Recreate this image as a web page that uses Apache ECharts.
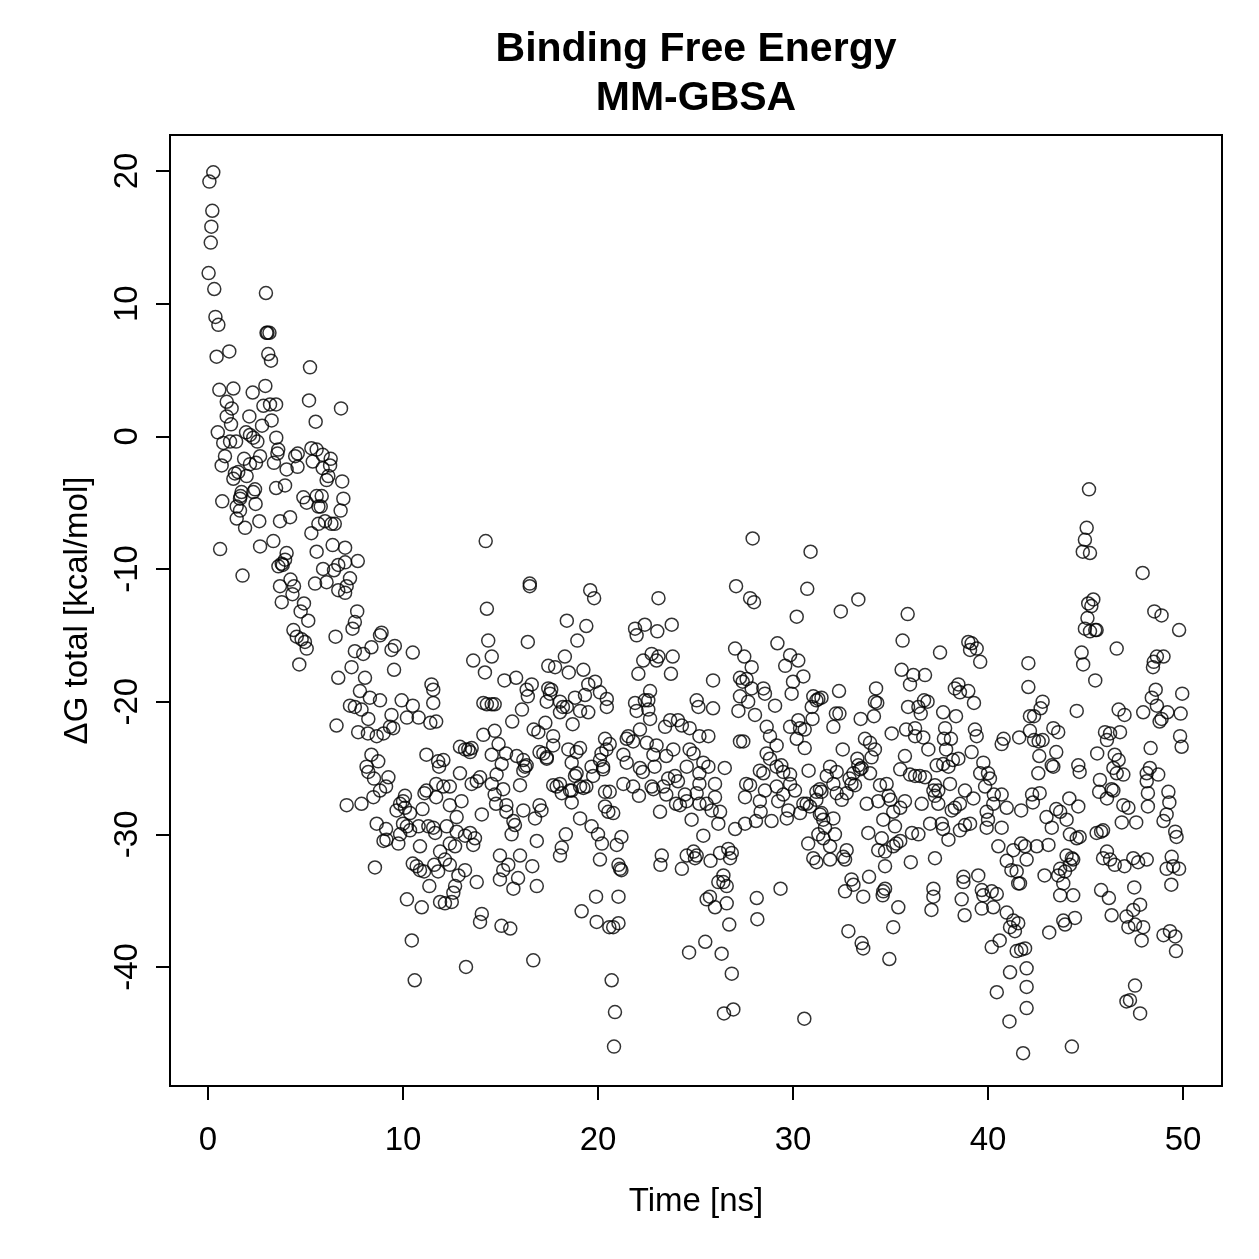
<!DOCTYPE html>
<html><head><meta charset="utf-8">
<script src="https://cdn.jsdelivr.net/npm/echarts@6/dist/echarts.min.js"></script>
<style>html,body{margin:0;padding:0;background:#fff}#c{width:1259px;height:1259px}</style>
</head><body><div id="c"></div>
<script>
const titleLine1 = 'Binding Free Energy';
const titleLine2 = 'MM-GBSA';
const xName = 'Time [ns]';
const yName = 'ΔG total [kcal/mol]';
const xTicks = [0, 10, 20, 30, 40, 50];
const yTicks = [-40, -30, -20, -10, 0, 10, 20];

// [time (ns), ΔG total (kcal/mol)], grouped by time range
const points_0_12 = [
[0.27,19.9],[0.07,19.2],[0.22,17.0],[0.17,15.8],[0.14,14.6],[0.03,12.3],[0.32,11.1],[0.38,9.0],[0.53,8.4],[2.97,10.8],
[3.0,7.8],[3.05,7.8],[3.15,7.8],[0.44,6.0],[1.09,6.4],[3.09,6.2],[3.23,5.7],[5.23,5.2],[0.58,3.5],[1.3,3.6],
[2.29,3.3],[2.94,3.8],[0.96,2.6],[1.21,2.1],[5.18,2.7],[6.82,2.1],[2.84,2.3],[3.18,2.4],[3.49,2.4],[0.96,1.5],
[2.12,1.5],[3.26,1.2],[5.52,1.1],[1.18,0.9],[2.77,0.8],[0.5,0.3],[1.95,0.3],[2.15,0.1],[2.32,-0.1],[2.53,-0.4],
[3.5,-0.1],[0.78,-0.5],[1.13,-0.4],[1.44,-0.4],[3.6,-1.0],[5.3,-0.9],[5.57,-1.0],[4.6,-1.3],
[0.87,-1.5],[0.7,-2.2],[1.85,-1.7],[2.15,-2.1],[2.67,-1.5],[2.46,-2.0],[3.56,-1.3],[3.38,-2.0],[4.03,-2.5],[4.47,-1.5],
[4.59,-2.3],[5.88,-1.4],[6.29,-1.7],[5.37,-1.9],[5.88,-2.4],[6.26,-2.2],[6.17,-3.0],[6.08,-3.3],[6.88,-3.4],[1.38,-2.8],
[1.55,-2.7],[1.98,-3.0],[1.3,-3.2],[2.41,-4.0],[2.32,-4.2],[1.72,-4.2],[1.67,-4.5],[1.64,-4.7],[3.49,-3.9],[3.95,-3.7],
[0.73,-4.9],[1.47,-5.3],[1.64,-5.6],[1.47,-6.2],[1.9,-6.9],[2.44,-5.1],[2.63,-6.4],[3.69,-6.4],[4.21,-6.1],[4.89,-4.6],
[5.06,-5.0],[5.57,-4.5],[5.83,-4.5],[5.66,-5.3],[5.78,-5.3],[6.94,-4.7],[6.8,-5.6],[5.66,-6.6],[6.0,-6.4],[6.33,-6.6],
[6.5,-6.6],[5.3,-7.3],[0.62,-8.5],[2.67,-8.3],[3.35,-7.9],[1.77,-10.5],[4.03,-8.8],[3.95,-9.3],[3.78,-9.6],[3.61,-9.8],
[3.83,-9.7],[5.57,-8.7],[6.39,-8.2],[7.03,-8.4],[7.68,-9.4],[5.9,-10.0],[6.46,-10.1],[6.68,-9.7],[7.03,-9.5],[4.23,-10.8],
[4.41,-11.3],[3.69,-11.3],[4.33,-11.9],[3.78,-12.5],[5.49,-11.1],[6.08,-11.0],[6.68,-11.6],[7.28,-10.7],[7.11,-11.3],[7.03,-11.8],
[4.92,-12.6],[4.75,-13.2],[5.14,-13.9],[7.65,-13.2],[7.53,-14.0],[7.41,-14.5],[4.38,-14.6],[4.55,-15.1],[4.8,-15.3],[4.97,-15.5],
[5.06,-16.0],[4.68,-17.2],[6.54,-15.1],[7.53,-16.2],[7.96,-16.4],[8.38,-15.9],[8.82,-15.0],[8.9,-14.8],[9.41,-16.1],[9.58,-15.8],
[10.5,-16.3],[9.54,-17.6],[7.36,-17.4],[6.68,-18.2],[8.05,-18.2],[11.46,-18.7],[11.55,-19.1],[11.55,-20.1],[7.79,-19.2],[8.3,-19.7],
[8.82,-19.9],[9.93,-19.9],[10.5,-20.3],[7.28,-20.3],[7.53,-20.4],[7.87,-20.6],[8.22,-21.3],[9.41,-21.0],[10.2,-21.2],[10.8,-21.2],
[11.4,-21.6],[6.59,-21.8],
[7.7,-22.3],[8.2,-22.4],[8.65,-22.6],[9.0,-22.4],[9.33,-21.9],[9.5,-22.0],[11.7,-21.5],[8.38,-24.0],[8.73,-24.5],[8.13,-24.9],
[8.22,-25.3],[8.51,-25.8],[9.25,-25.7],[9.13,-26.4],[8.82,-26.7],[8.48,-27.2],[7.11,-27.8],[7.87,-27.7],[11.2,-24.0],[11.8,-24.5],
[11.85,-24.9],[10.1,-27.1],[10.0,-27.5],[9.85,-27.7],[9.67,-28.2],[10.1,-28.0],[10.36,-28.4],[11.0,-28.1],[11.2,-26.7],[11.1,-26.9],
[11.7,-27.2],[11.7,-26.2],[8.65,-29.2],[9.13,-29.6],[9.0,-30.5],[9.15,-30.4],[9.85,-30.0],[9.76,-30.7],[10.0,-29.2],[10.2,-29.4],
[10.36,-29.7],[10.8,-29.4],[11.3,-29.4],[11.55,-29.5],[11.65,-29.9],[10.87,-30.9],[11.9,-31.3],[8.56,-32.5],[10.5,-32.2],[10.7,-32.4],
[10.87,-32.7],[11.08,-32.8],[11.6,-32.3],[11.8,-32.8],[11.35,-33.9],[10.2,-34.9],[10.96,-35.5],[10.45,-38.0],[10.6,-41.0],[11.9,-35.1]
];

const points_12_21 = [
[14.24,-7.9],[16.5,-11.1],[16.5,-11.3],[19.6,-11.6],[19.8,-12.2],[14.3,-13.0],[18.4,-13.9],[19.4,-14.3],[14.37,-15.4],[14.55,-16.6],
[16.4,-15.5],[18.94,-15.4],[18.3,-16.6],[13.6,-16.9],[14.2,-17.8],[17.45,-17.3],[17.8,-17.4],[18.5,-17.8],[19.25,-17.6],[15.2,-18.4],
[15.8,-18.2],[16.6,-18.7],[16.34,-19.1],[16.4,-19.6],[17.45,-19.0],[17.6,-19.1],[17.54,-19.4],[17.37,-20.0],[18.05,-20.0],[18.2,-20.4],
[18.4,-20.4],[18.05,-20.8],[18.82,-19.7],[19.33,-19.5],[19.5,-18.7],[19.85,-18.5],[20.1,-19.3],[20.45,-19.8],[20.45,-20.4],[19.08,-20.7],
[19.5,-20.8],[14.12,-20.1],[14.3,-20.2],[14.55,-20.2],[14.7,-20.2],[16.1,-20.6],[15.6,-21.5],[17.3,-21.6],[18.7,-21.7],[14.12,-22.5],
[14.7,-22.2],[14.9,-23.2],[14.55,-24.0],[15.06,-24.7],[15.28,-23.9],[15.83,-24.1],[16.17,-24.4],[16.26,-24.9],[16.17,-25.2],[16.34,-24.8],
[12.92,-23.4],[13.18,-23.6],[13.35,-23.6],[13.52,-23.5],[13.44,-23.8],[12.07,-24.4],[16.7,-22.1],[16.94,-22.3],[17.7,-22.6],[17.7,-23.3],
[17.0,-23.8],[17.2,-23.9],[17.37,-24.2],[17.37,-24.3],[18.48,-23.6],[18.9,-23.8],[19.08,-23.5],[18.65,-24.6],[18.9,-25.4],[18.82,-25.6],
[19.67,-24.9],[20.1,-24.4],[20.18,-23.9],[20.43,-23.6],[20.26,-24.9],[20.26,-25.1],[19.75,-25.6],[19.4,-26.4],[19.25,-26.5],[12.92,-25.4],
[13.52,-26.2],[13.78,-26.0],[13.95,-25.7],[14.8,-25.5],[14.55,-26.2],[15.14,-26.6],[16.0,-26.3],[17.88,-26.4],[18.05,-26.2],[18.65,-26.7],
[19.08,-26.4],[12.07,-26.4],[12.4,-26.4],
[12.4,-27.8],[13.0,-27.5],[12.75,-28.7],[12.24,-29.4],[12.75,-29.8],[13.18,-30.1],[13.44,-29.9],[13.69,-30.3],[13.6,-30.8],[12.4,-30.7],
[12.67,-30.9],[12.15,-31.9],[12.4,-32.3],[12.84,-33.1],[13.18,-32.7],[12.67,-33.9],[12.58,-34.4],[12.5,-35.1],[12.15,-35.2],[13.78,-33.6],
[13.95,-36.6],[14.04,-36.0],[13.23,-40.0],[14.04,-28.5],[14.7,-27.0],[14.77,-27.7],[15.3,-27.8],[15.3,-28.3],[15.66,-29.0],[15.74,-29.3],
[15.57,-30.0],[16.17,-28.2],[14.97,-31.6],[15.4,-32.3],[15.14,-32.7],[14.97,-33.4],[15.66,-34.1],[16.0,-31.6],[15.9,-33.3],[16.63,-32.4],
[16.86,-33.9],[16.86,-30.5],[15.05,-36.9],[15.5,-37.1],[16.68,-39.5],[17.0,-27.8],[17.1,-28.2],[16.77,-28.8],[17.7,-26.3],[18.14,-26.9],
[18.56,-26.7],[18.65,-27.6],[19.08,-28.8],[19.67,-29.4],[20.0,-30.0],[20.2,-30.7],[18.35,-30.0],[18.14,-31.0],[18.05,-31.6],[20.1,-31.9],
[19.9,-34.7],[19.16,-35.8],[19.93,-36.6],[20.58,-37.0],[20.36,-26.8]
];

const points_21_31 = [
[27.93,-7.7],[30.9,-8.7],[27.08,-11.3],[27.8,-12.2],[28.0,-12.5],[30.73,-11.5],[23.1,-12.2],[30.19,-13.6],[21.9,-14.5],[21.98,-15.0],
[22.4,-14.2],[23.04,-14.7],[23.78,-14.2],[27.03,-16.0],[27.5,-16.6],[29.2,-15.6],[29.85,-16.5],[30.27,-16.9],[29.6,-17.3],[30.53,-18.1],
[30.0,-18.5],[29.93,-19.4],[25.9,-18.4],[22.32,-16.9],[22.75,-16.4],[23.1,-16.6],[23.83,-16.6],[22.07,-17.9],[23.74,-17.9],[23.0,-16.9],
[27.88,-17.4],[27.28,-18.2],[27.42,-18.5],[27.62,-18.3],[27.88,-19.0],[28.48,-19.0],[28.56,-19.4],[29.08,-20.3],[27.28,-19.6],[27.7,-20.0],
[27.2,-20.7],[28.05,-21.0],[22.67,-19.2],[22.58,-19.9],[22.4,-19.9],[21.9,-20.1],[21.98,-20.7],[22.58,-20.6],[22.67,-21.3],[25.06,-19.9],
[25.15,-20.4],[25.9,-20.5],[31.04,-19.6],[31.2,-19.9],[30.96,-20.4],[31.0,-21.3],[28.65,-21.9],[28.82,-22.6],[29.16,-23.3],[29.85,-21.9],
[30.27,-21.4],[30.36,-22.0],[30.6,-22.1],[30.19,-22.8],[30.6,-23.5],[23.7,-21.4],[23.44,-21.9],[24.1,-21.4],[24.3,-21.8],[24.7,-22.0],
[25.2,-22.6],[25.66,-22.6],[22.15,-22.1],[21.55,-22.6],[21.47,-22.8],[21.8,-23.0],[20.36,-22.8],[20.6,-23.2],[22.5,-23.1],[23.0,-23.3],
[21.3,-24.0],[21.47,-24.6],[22.15,-25.0],[22.3,-25.3],[22.84,-24.0],[22.9,-24.9],[23.86,-23.6],[23.5,-24.1],[24.7,-23.6],[24.9,-23.9],
[24.55,-24.9],[25.4,-24.6],[25.66,-24.9],[25.2,-25.4],[26.5,-25.0],[27.28,-23.0],[27.45,-23.0],[28.65,-23.9],[28.82,-24.3],[28.3,-25.2],
[28.48,-25.4],[29.16,-24.9],[29.4,-24.8],[29.5,-25.3],[29.85,-25.5],[30.8,-25.2],[21.3,-26.2],[21.8,-26.4],[20.6,-26.8],[22.75,-26.4],
[23.35,-26.4],[23.6,-25.8],[23.95,-25.6],[24.1,-26.0],[25.2,-26.2],[26.0,-26.2],[27.6,-26.2],[28.56,-26.7],[29.16,-26.4],[29.85,-26.2],
[30.1,-26.7],
[22.1,-27.1],[20.36,-27.9],[20.53,-28.3],[20.78,-28.4],[20.96,-30.8],[21.2,-30.2],[21.05,-32.3],[21.13,-32.6],[21.2,-32.7],[21.05,-34.7],
[20.78,-37.0],[21.05,-36.7],[20.7,-41.0],[20.87,-43.4],[20.82,-46.0],[22.84,-26.6],[23.5,-27.0],[24.0,-27.7],[24.2,-27.8],[24.46,-27.0],
[24.55,-27.5],[23.18,-28.3],[24.8,-28.9],[25.06,-26.9],[25.2,-27.7],[25.57,-27.7],[25.83,-28.2],[26.0,-27.2],[26.26,-28.3],[26.17,-29.2],
[25.4,-30.1],[23.27,-31.6],[23.2,-32.3],[24.3,-32.6],[24.55,-31.6],[24.9,-31.3],[25.06,-31.6],[24.97,-31.8],[25.77,-32.0],[26.26,-31.4],
[26.68,-31.1],[26.86,-31.4],[26.77,-31.8],[26.43,-33.1],[26.17,-33.6],[26.43,-33.6],[26.6,-33.9],[25.57,-34.9],[25.74,-34.7],[26.0,-35.5],
[26.6,-35.2],[26.73,-36.8],[25.5,-38.1],[24.67,-38.9],[26.34,-39.0],[26.86,-40.5],[26.46,-43.5],[26.94,-43.2],[28.14,-34.8],[28.17,-36.4],
[29.36,-34.1],[30.58,-43.9],[27.54,-27.2],[27.8,-26.3],[28.3,-27.5],[28.34,-28.3],[28.9,-29.0],[28.1,-29.0],[27.54,-29.2],[27.03,-29.6],
[29.24,-27.5],[29.5,-27.0],[29.76,-28.2],[29.68,-28.8],[30.36,-28.4],[30.53,-27.7],[30.7,-27.7],[30.87,-27.9],[31.2,-26.8],[31.38,-28.5],
[31.3,-30.0],[30.78,-30.7],[31.04,-31.8],[31.2,-32.1]
];

const points_31_42 = [
[33.35,-12.3],[32.45,-13.2],[35.88,-13.4],[35.62,-15.4],[37.54,-16.3],[38.99,-15.5],[39.16,-15.6],[39.08,-16.1],[39.42,-16.0],[39.6,-17.0],
[35.57,-17.6],[36.17,-18.0],[36.77,-18.0],[36.0,-18.7],[34.26,-19.0],[34.2,-20.0],[34.32,-20.1],[34.15,-21.1],[33.47,-21.3],[32.07,-21.9],
[32.36,-19.2],[31.3,-19.8],[31.46,-19.7],[32.2,-20.9],[32.38,-20.9],[36.72,-19.9],[36.9,-20.0],[35.9,-20.4],[36.43,-20.4],[36.55,-20.9],
[37.7,-20.8],[38.36,-21.1],[38.3,-19.0],[38.48,-18.7],[38.56,-19.3],[38.99,-19.2],[39.28,-20.1],[35.06,-22.4],[35.8,-22.1],[36.26,-22.0],
[36.26,-22.6],[36.68,-22.7],[36.94,-23.6],[37.8,-22.0],[37.74,-22.8],[38.1,-22.8],[37.85,-23.6],[39.33,-22.1],[39.42,-22.6],[39.16,-23.8],
[40.8,-22.8],[40.7,-23.2],[41.6,-22.7],[42.15,-22.2],[33.69,-22.8],[33.95,-23.1],[34.2,-23.6],[34.03,-24.2],[32.55,-23.6],[33.3,-24.3],
[33.35,-24.8],[33.52,-25.0],[33.44,-25.1],[33.95,-25.4],[33.1,-25.4],[32.9,-25.8],[35.74,-24.1],[35.5,-25.1],[36.0,-25.5],[36.26,-25.6],
[36.5,-25.6],[36.77,-25.7],[37.37,-24.8],[37.7,-24.7],[37.97,-24.9],[38.2,-24.4],[38.48,-24.3],[39.76,-24.6],[39.6,-25.4],[40.0,-25.4],
[40.1,-25.8],[39.85,-26.4],[38.05,-26.2],[31.9,-24.9],[32.24,-25.3],[31.73,-25.6],[32.07,-26.2],[31.38,-26.6],[34.46,-26.3],[34.8,-26.2],
[37.28,-26.3],[37.45,-26.7],[38.82,-26.7],[40.3,-27.0],[40.7,-27.0],[42.07,-17.1],[42.07,-18.9],[42.15,-21.1],
[31.2,-27.4],[31.46,-26.8],[32.24,-26.9],[32.5,-27.4],[32.75,-26.9],[33.0,-26.2],[33.18,-26.3],[31.46,-28.4],[31.55,-28.9],[32.07,-28.8],
[31.64,-29.5],[32.15,-30.0],[31.55,-30.3],[31.9,-30.9],[31.9,-31.9],[32.58,-31.7],[32.75,-31.2],[32.67,-31.9],[33.78,-27.7],[34.37,-27.5],
[34.9,-27.1],[35.0,-27.4],[35.14,-28.3],[35.5,-28.0],[35.74,-27.5],[34.63,-28.9],[35.23,-29.4],[33.86,-29.9],[34.55,-30.3],[34.37,-31.2],
[34.72,-31.3],[35.14,-30.9],[35.3,-30.7],[35.5,-30.5],[34.72,-32.4],[36.1,-29.9],[36.43,-30.0],[36.04,-32.1],[36.6,-27.7],[37.03,-29.2],
[37.2,-26.7],[37.28,-27.1],[37.45,-27.7],[37.63,-29.2],[37.7,-29.6],[37.97,-30.4],[38.14,-28.2],[38.3,-28.0],[38.56,-27.7],[39.25,-27.3],
[38.56,-29.7],[38.82,-29.3],[39.08,-29.2],[39.93,-28.3],[40.0,-28.9],[39.93,-29.5],[40.27,-27.7],[40.96,-28.0],[41.7,-28.2],[40.7,-29.5],
[40.53,-30.9],[37.28,-31.8],[33.0,-33.4],[33.1,-33.8],[32.67,-34.3],[33.6,-34.7],[33.9,-33.2],[34.63,-34.3],[34.72,-34.1],[34.6,-34.6],
[35.4,-35.5],[35.14,-37.0],[32.84,-37.3],[33.52,-38.2],[33.6,-38.6],[34.94,-39.4],[37.2,-34.1],[37.2,-34.7],[37.1,-35.7],[38.74,-33.2],
[38.74,-33.6],[38.65,-34.9],[38.8,-36.1],[39.5,-33.1],[39.68,-34.2],[39.76,-34.6],[39.68,-35.6],[40.19,-34.3],[40.45,-34.5],[40.27,-35.5],
[40.96,-32.0],[41.2,-32.7],[41.47,-32.8],[41.55,-33.7],[41.7,-30.7],[41.3,-31.2],[41.98,-31.9],[40.96,-35.9],[41.3,-36.5],[41.55,-36.7],
[41.13,-37.0],[40.6,-38.0],[40.19,-38.5],[41.47,-38.8],[41.7,-38.7],[41.9,-38.6],[41.98,-40.1],[41.13,-40.4],[40.45,-41.9],[41.98,-41.5],
[41.98,-43.1],[41.1,-44.1],[41.8,-46.5]
];

const points_42_50 = [
[45.18,-4.0],[45.06,-6.9],[44.97,-7.8],[44.86,-8.7],[45.23,-8.8],[47.93,-10.3],[45.4,-12.3],[45.14,-12.6],[45.3,-12.8],[45.1,-13.7],
[44.97,-14.5],[45.23,-14.7],[45.5,-14.6],[45.57,-14.6],[48.53,-13.2],[48.9,-13.5],[49.8,-14.6],[46.6,-16.0],[44.8,-16.3],[44.88,-17.2],
[45.5,-18.4],[48.66,-16.6],[49.0,-16.6],[48.5,-17.0],[48.46,-17.4],[48.6,-19.1],[48.4,-19.7],[48.66,-20.3],[49.2,-20.8],[48.9,-21.3],
[48.8,-21.5],[47.96,-20.8],[49.96,-19.4],[49.88,-20.9],[49.85,-22.6],[49.93,-23.4],[48.34,-23.5],[44.55,-20.7],[42.8,-20.0],[42.7,-20.5],
[42.36,-21.1],[42.36,-22.9],[42.6,-23.0],[42.8,-22.9],[43.35,-22.0],[43.6,-22.3],[42.63,-24.1],[43.5,-23.8],[42.58,-25.4],[43.27,-24.8],
[43.35,-24.9],[46.7,-20.6],[47.0,-21.0],[46.0,-22.3],[46.26,-22.4],[46.1,-22.9],[46.77,-22.3],[45.6,-23.9],[46.5,-24.0],[46.7,-24.4],
[46.43,-25.0],[46.6,-25.4],[46.94,-25.5],[44.63,-24.8],[44.7,-25.3],[45.74,-25.9],[45.7,-26.8],[46.34,-26.6],[48.14,-25.4],[48.3,-25.0],
[48.73,-25.5],[48.14,-26.0],[48.2,-26.9],[49.25,-26.8],[42.26,-27.0],[42.65,-26.9],
[42.3,-27.6],[43.0,-28.7],[43.27,-29.5],[43.5,-28.1],[43.7,-28.3],[44.03,-28.9],[44.17,-27.3],[44.63,-27.9],[46.1,-27.3],[46.43,-26.7],
[46.94,-27.8],[47.2,-28.0],[46.86,-29.1],[47.6,-29.1],[48.2,-27.9],[49.3,-27.6],[49.16,-28.5],[49.0,-29.0],[49.6,-29.8],[49.67,-30.2],
[45.57,-29.9],[45.8,-29.8],[45.9,-29.7],[44.2,-30.0],[44.55,-30.3],[44.7,-30.2],[41.9,-30.9],[42.5,-30.9],[43.1,-30.8],[41.64,-33.7],
[44.03,-31.6],[44.3,-31.8],[44.37,-31.9],[44.2,-32.3],[43.7,-32.6],[43.6,-33.1],[43.95,-32.8],[43.86,-33.7],[42.9,-33.1],[43.7,-34.6],
[44.37,-34.6],[46.1,-31.3],[45.9,-31.8],[46.26,-31.9],[46.5,-32.3],[47.0,-32.4],[47.45,-31.8],[47.7,-32.1],[48.14,-31.9],[49.42,-31.7],
[49.16,-32.6],[49.5,-32.4],[49.8,-32.6],[49.4,-33.8],[47.5,-34.0],[45.8,-34.2],[46.2,-34.8],[46.34,-36.1],[47.1,-36.2],[47.45,-35.7],
[47.8,-35.3],[47.2,-37.0],[47.54,-36.8],[47.96,-37.0],[47.88,-38.0],[49.0,-37.6],[49.33,-37.3],[49.6,-37.7],[49.64,-38.8],[41.38,-37.3],
[44.3,-46.0],[43.14,-37.4],[43.86,-36.5],[43.95,-36.8],[44.46,-36.3],[47.54,-41.4],[47.1,-42.6],[47.28,-42.5],[47.8,-43.5]
];

const allPoints = [].concat(points_0_12, points_12_21, points_21_31, points_31_42, points_42_50);

const FONT = '"Liberation Sans", Arial, Helvetica, sans-serif';
const chart = echarts.init(document.getElementById('c'), null, {renderer: 'canvas'});
chart.setOption({
  animation: false,
  backgroundColor: '#ffffff',
  grid: {left: 170, top: 135, width: 1052, height: 951, show: true, borderColor: '#000', borderWidth: 2, backgroundColor: 'transparent'},
  xAxis: {
    type: 'value', min: -1.95, max: 52,
    name: xName, nameLocation: 'middle', nameGap: 99,
    nameTextStyle: {fontFamily: FONT, fontSize: 33, color: '#000'},
    axisLine: {show: false, onZero: false}, splitLine: {show: false},
    axisTick: {show: true, inside: false, length: 14, lineStyle: {color: '#000', width: 2}, customValues: xTicks},
    axisLabel: {show: true, margin: 38, fontFamily: FONT, fontSize: 33, color: '#000', customValues: xTicks}
  },
  yAxis: {
    type: 'value', min: -48.97, max: 22.71,
    name: yName, nameLocation: 'middle', nameGap: 76, nameRotate: 90,
    nameTextStyle: {fontFamily: FONT, fontSize: 33, color: '#000'},
    axisLine: {show: false, onZero: false}, splitLine: {show: false},
    axisTick: {show: true, inside: false, length: 14, lineStyle: {color: '#000', width: 2}, customValues: yTicks},
    axisLabel: {show: true, rotate: 90, margin: 26, fontFamily: FONT, fontSize: 33, color: '#000', customValues: yTicks}
  },
  graphic: [
    {type: 'text', x: 696, y: 50, style: {text: titleLine1, font: 'bold 41px ' + FONT, fill: '#000', align: 'center', verticalAlign: 'middle', textAlign: 'center', textVerticalAlign: 'middle'}},
    {type: 'text', x: 696, y: 99, style: {text: titleLine2, font: 'bold 41px ' + FONT, fill: '#000', align: 'center', verticalAlign: 'middle', textAlign: 'center', textVerticalAlign: 'middle'}}
  ],
  series: [{
    type: 'scatter', data: allPoints, symbol: 'circle', symbolSize: 13,
    itemStyle: {color: 'rgba(0,0,0,0)', borderColor: '#000', borderWidth: 1.5},
    emphasis: {disabled: true}, silent: true
  }]
});
</script></body></html>
